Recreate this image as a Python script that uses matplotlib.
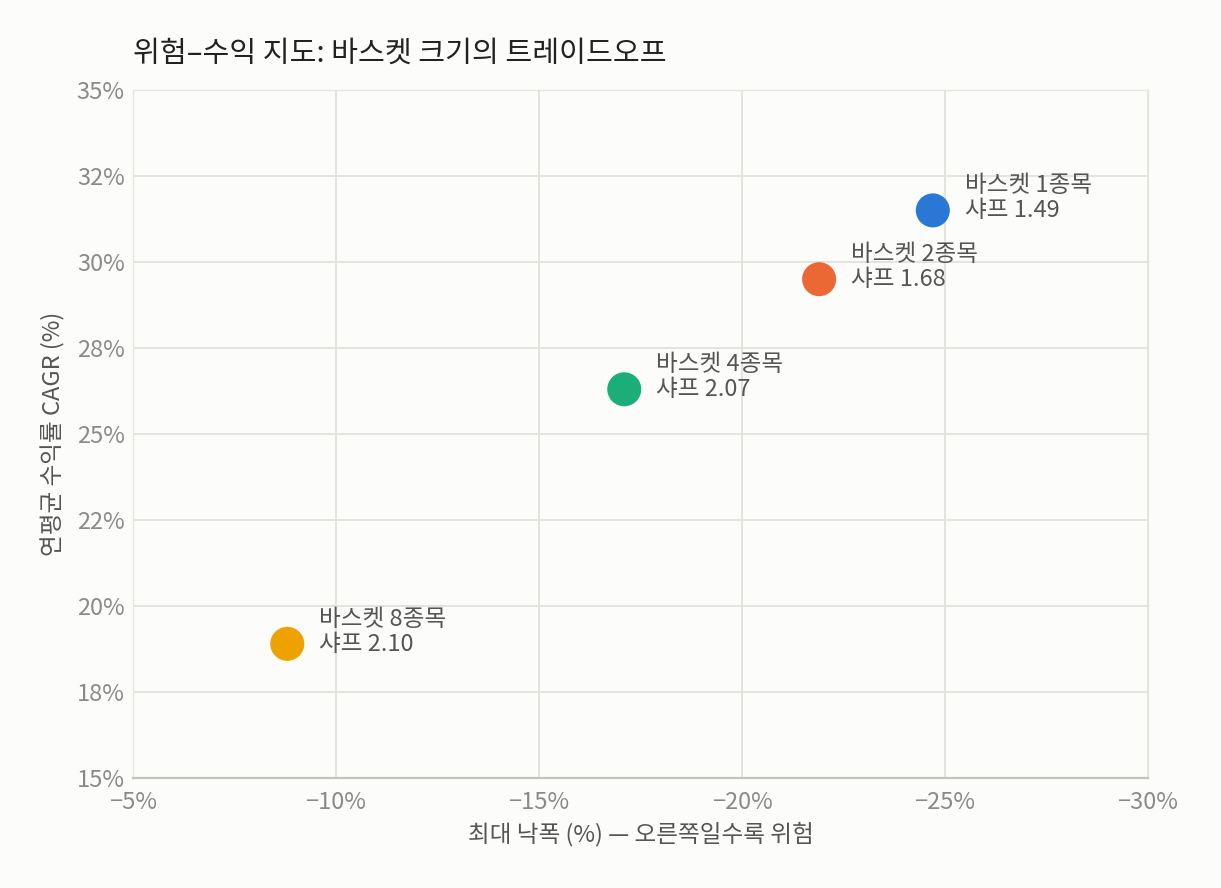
import matplotlib
matplotlib.use("Agg")
import matplotlib.pyplot as plt
from matplotlib.ticker import FuncFormatter, MultipleLocator

plt.rcParams['font.family'] = ['Noto Sans CJK KR', 'DejaVu Sans']

baskets = ["바스켓 1종목", "바스켓 2종목", "바스켓 4종목", "바스켓 8종목"]
max_drawdown = [-24.7, -21.9, -17.1, -8.8]
cagr = [31.5, 29.5, 26.3, 18.9]
sharpe = [1.49, 1.68, 2.07, 2.10]
colors = ["#2a78d6", "#eb6834", "#1bae79", "#eea200"]

bg = "#fcfcfa"
fig = plt.figure(figsize=(12.21, 8.88), dpi=100, facecolor=bg)
ax = fig.add_axes([133/1221, 1-778/888, (1148-133)/1221, (778-90)/888])
ax.set_facecolor(bg)

ax.scatter(max_drawdown, cagr, s=600, c=colors, zorder=3, linewidths=0)
for name, x, y, sh in zip(baskets, max_drawdown, cagr, sharpe):
    ax.annotate(f"{name}\n샤프 {sh:.2f}", (x, y), xytext=(32, 12),
                textcoords='offset pixels', ha='left', va='center',
                fontsize=17, color="#555555", linespacing=1.12, zorder=4)

ax.set_xlim(-5, -30)
ax.set_ylim(15, 35)
ax.xaxis.set_major_locator(MultipleLocator(5))
ax.yaxis.set_major_locator(MultipleLocator(2.5))
ax.xaxis.set_major_formatter(FuncFormatter(lambda v, p: f"{v:.0f}%".replace("-", "\u2212")))
ax.yaxis.set_major_formatter(FuncFormatter(lambda v, p: f"{v:.0f}%"))
ax.tick_params(length=0, labelsize=17, labelcolor="#8a8a8a", pad=6)
ax.tick_params(axis='x', pad=9)

ax.grid(True, color="#e2e2dc", linewidth=1.3, zorder=0)
ax.set_axisbelow(True)
for side in ["top", "right", "left"]:
    ax.spines[side].set_color("#e6e6e0")
    ax.spines[side].set_linewidth(1.0)
ax.spines["bottom"].set_color("#c4c4bc")
ax.spines["bottom"].set_linewidth(1.6)

ax.set_xlabel("최대 낙폭 (%) — 오른쪽일수록 위험", fontsize=17, color="#555555", labelpad=6)
ax.set_ylabel("연평균 수익률 CAGR (%)", fontsize=17, color="#555555", labelpad=8)
ax.set_title("위험–수익 지도: 바스켓 크기의 트레이드오프", loc='left', fontsize=21,
             color="#222222", pad=20)

fig.savefig("out.png", dpi=100, facecolor=bg)
